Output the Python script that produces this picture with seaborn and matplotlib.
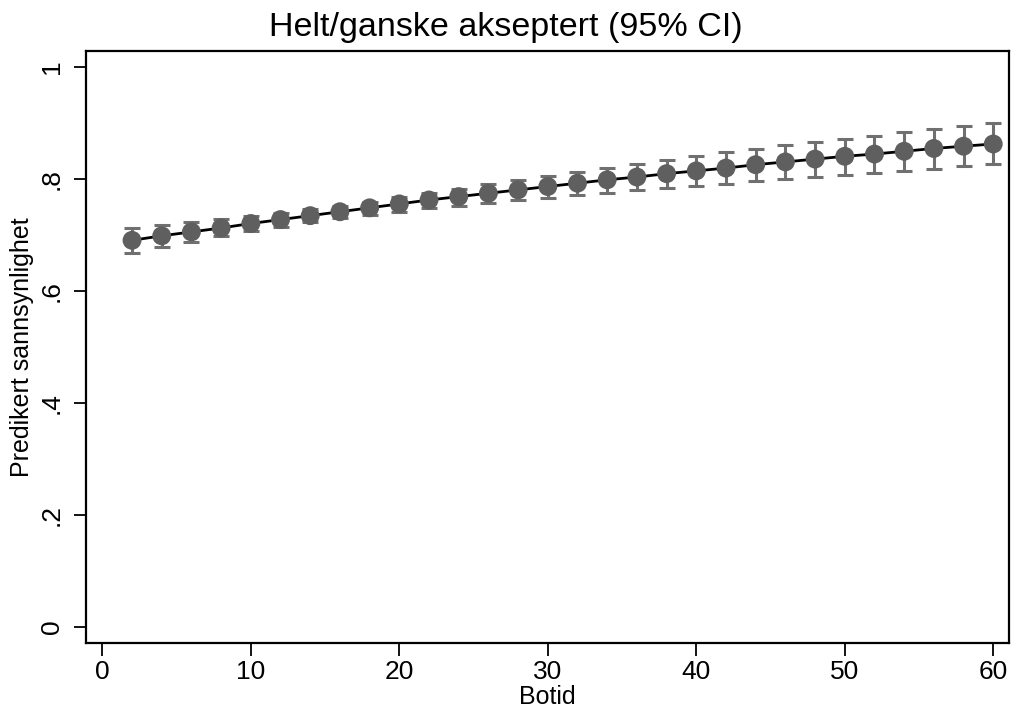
import pandas as pd
import numpy as np
import matplotlib
matplotlib.use("Agg")
import matplotlib.pyplot as plt
import seaborn as sns

# predicted probabilities (margins) by botid, with 95% CI
botid = [2, 4, 6, 8, 10, 12, 14, 16, 18, 20, 22, 24, 26, 28, 30,
         32, 34, 36, 38, 40, 42, 44, 46, 48, 50, 52, 54, 56, 58, 60]
pred = [0.690, 0.698, 0.705, 0.712, 0.720, 0.727, 0.734, 0.741, 0.748, 0.755,
        0.762, 0.768, 0.774, 0.780, 0.786, 0.792, 0.798, 0.803, 0.809, 0.814,
        0.819, 0.825, 0.830, 0.835, 0.840, 0.844, 0.849, 0.854, 0.858, 0.862]
ci_low = [0.667, 0.678, 0.687, 0.697, 0.706, 0.714, 0.722, 0.729, 0.735, 0.741,
          0.747, 0.752, 0.757, 0.762, 0.766, 0.770, 0.775, 0.779, 0.783, 0.787,
          0.791, 0.795, 0.799, 0.803, 0.807, 0.811, 0.814, 0.818, 0.822, 0.826]
ci_high = [0.712, 0.717, 0.723, 0.728, 0.733, 0.739, 0.746, 0.752, 0.759, 0.767,
           0.775, 0.782, 0.790, 0.797, 0.804, 0.812, 0.819, 0.826, 0.834, 0.841,
           0.847, 0.853, 0.860, 0.866, 0.871, 0.877, 0.883, 0.888, 0.894, 0.899]

df = pd.DataFrame({"botid": botid, "pred": pred, "lo": ci_low, "hi": ci_high})

sns.set_style("ticks")
plt.rcParams["font.family"] = ["Liberation Sans", "DejaVu Sans"]
plt.rcParams["text.color"] = "black"
plt.rcParams["axes.labelcolor"] = "black"
plt.rcParams["xtick.color"] = "black"
plt.rcParams["ytick.color"] = "black"

fig = plt.figure(figsize=(10.11, 7.07), dpi=100)
ax = fig.add_axes([86/1011, 1 - 643/707, (1009-86)/1011, (643-51)/707])

ax.errorbar(df.botid, df.pred,
            yerr=[df.pred - df.lo, df.hi - df.pred],
            fmt="none", ecolor="#707070", elinewidth=2.2, capsize=5.5, capthick=2.2, zorder=2)
sns.lineplot(data=df, x="botid", y="pred", color="black", linewidth=2, ax=ax, zorder=3)
sns.scatterplot(data=df, x="botid", y="pred", color="#5f5f5f", s=185, edgecolor="none",
                ax=ax, zorder=4)

ax.set_xlim(-1.1, 61.06)
ax.set_ylim(-0.029, 1.028)
ax.set_xticks([0, 10, 20, 30, 40, 50, 60])
ax.set_yticks([0, 0.2, 0.4, 0.6, 0.8, 1.0])
ax.set_yticklabels(["0", ".2", ".4", ".6", ".8", "1"], rotation=90, va="center")
ax.tick_params(axis="both", labelsize=19, length=9, width=1.3, direction="out")
ax.tick_params(axis="x", pad=3)
ax.tick_params(axis="y", pad=7)

ax.set_xlabel("Botid", fontsize=18, va="top")
ax.xaxis.set_label_coords(0.5, (643 - 685) / 592)
ax.set_ylabel("Predikert sannsynlighet", fontsize=18, labelpad=4)
fig.suptitle("Helt/ganske akseptert (95% CI)", fontsize=24.5, x=0.5, y=1 - 12/707, va="top")

for s in ax.spines.values():
    s.set_visible(True)
    s.set_color("black")
    s.set_linewidth(1.6)

fig.savefig("out.png", dpi=100)
